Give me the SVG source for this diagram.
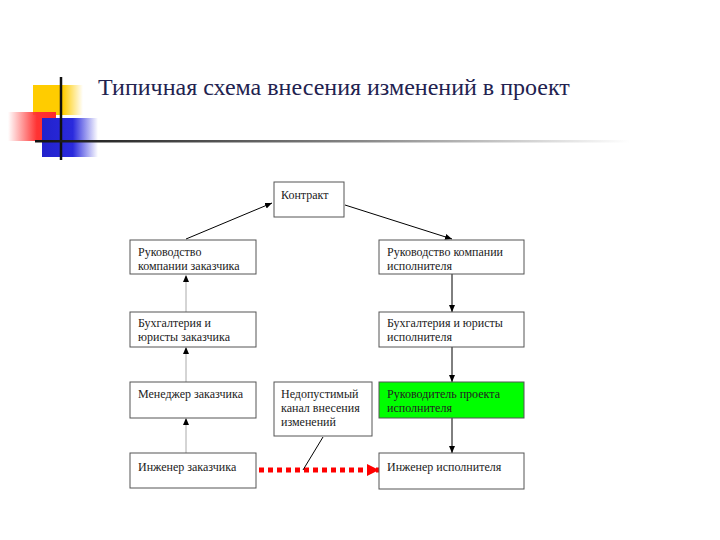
<svg xmlns="http://www.w3.org/2000/svg" width="720" height="540" viewBox="0 0 720 540">
<defs>
<linearGradient id="yel" x1="0" y1="0" x2="1" y2="0"><stop offset="0" stop-color="#ffcc00"/><stop offset="0.6" stop-color="#ffcc00"/><stop offset="1" stop-color="#ffcc00" stop-opacity="0"/></linearGradient>
<linearGradient id="red" x1="0" y1="0" x2="1" y2="0"><stop offset="0" stop-color="#ff3333" stop-opacity="0"/><stop offset="0.6" stop-color="#ff3333"/><stop offset="1" stop-color="#ff2a2a"/></linearGradient>
<linearGradient id="blu" x1="0" y1="0" x2="1" y2="0"><stop offset="0" stop-color="#2222cc"/><stop offset="0.55" stop-color="#2a2add"/><stop offset="1" stop-color="#2a2add" stop-opacity="0"/></linearGradient>
<linearGradient id="hl" x1="0" y1="0" x2="1" y2="0"><stop offset="0" stop-color="#111"/><stop offset="0.55" stop-color="#888"/><stop offset="1" stop-color="#fff"/></linearGradient>
<marker id="ah" markerWidth="8" markerHeight="8" refX="7" refY="4" orient="auto" markerUnits="userSpaceOnUse"><path d="M0,1 L7,4 L0,7 Z" fill="#000"/></marker>
<marker id="rh" markerWidth="14" markerHeight="14" refX="12" refY="7" orient="auto" markerUnits="userSpaceOnUse"><path d="M0,1 L12,7 L0,13 Z" fill="#ff0000"/></marker>
</defs>
<style>
.box{fill:#fff;stroke:#555;stroke-width:1}
.green{fill:#00ff00;stroke:#555;stroke-width:1}
.t{font-family:"Liberation Serif","DejaVu Serif",serif;font-size:12px;fill:#222}
.title{font-family:"Liberation Serif","DejaVu Serif",serif;font-size:24px;fill:#22224f}
.up{stroke:#aaa;stroke-width:1;fill:none}
.dn{stroke:#000;stroke-width:1;fill:none}
</style>
<rect width="720" height="540" fill="#fff"/>
<g id="decor">
<rect x="33" y="85" width="50" height="30" fill="url(#yel)"/>
<rect x="8" y="112" width="48" height="29" fill="url(#red)"/>
<rect x="42" y="118" width="56" height="39" fill="url(#blu)"/>
<line x1="61" y1="77" x2="61" y2="160" stroke="#111" stroke-width="2.5"/>
<rect x="35" y="140" width="595" height="2.5" fill="url(#hl)"/>
</g>
<text class="title" x="98" y="95">Типичная схема внесения изменений в проект</text>
<g id="connectors">
<line class="dn" x1="186" y1="239" x2="272" y2="203" marker-end="url(#ah)"/>
<line class="dn" x1="345" y1="205" x2="452" y2="239" marker-end="url(#ah)"/>
<line class="up" x1="186" y1="312" x2="186" y2="276"/><path d="M183,282 L186,275 L189,282 Z" fill="#000"/>
<line class="up" x1="186" y1="382" x2="186" y2="348"/><path d="M183,354 L186,347 L189,354 Z" fill="#000"/>
<line class="up" x1="186" y1="453" x2="186" y2="419"/><path d="M183,425 L186,418 L189,425 Z" fill="#000"/>
<line class="dn" x1="452" y1="274" x2="452" y2="312" marker-end="url(#ah)"/>
<line class="dn" x1="452" y1="347" x2="452" y2="382" marker-end="url(#ah)"/>
<line class="dn" x1="452" y1="418" x2="452" y2="453" marker-end="url(#ah)"/>
<line x1="259" y1="470" x2="379" y2="470" stroke="#ff0000" stroke-width="5" stroke-dasharray="5,4" marker-end="url(#rh)"/>
<line x1="323" y1="437" x2="303" y2="470" stroke="#000" stroke-width="1"/>
</g>
<g id="n-contract"><rect class="box" x="274" y="182" width="70" height="35"/><text class="t" x="281" y="199">Контракт</text></g>
<g id="n-rz"><rect class="box" x="130" y="240" width="126" height="34"/><text class="t" x="138" y="256">Руководство</text><text class="t" x="138" y="270">компании заказчика</text></g>
<g id="n-ri"><rect class="box" x="379" y="240" width="145" height="34"/><text class="t" x="387" y="256">Руководство компании</text><text class="t" x="387" y="270">исполнителя</text></g>
<g id="n-bz"><rect class="box" x="130" y="312" width="126" height="35"/><text class="t" x="138" y="327">Бухгалтерия и</text><text class="t" x="138" y="341">юристы заказчика</text></g>
<g id="n-bi"><rect class="box" x="379" y="312" width="145" height="35"/><text class="t" x="387" y="327">Бухгалтерия и юристы</text><text class="t" x="387" y="341">исполнителя</text></g>
<g id="n-mz"><rect class="box" x="130" y="382" width="126" height="36"/><text class="t" x="138" y="398">Менеджер заказчика</text></g>
<g id="n-bad"><rect class="box" x="274" y="382" width="98" height="54"/><text class="t" x="281" y="398">Недопустимый</text><text class="t" x="281" y="412">канал внесения</text><text class="t" x="281" y="426">изменений</text></g>
<g id="n-rp"><rect class="green" x="379" y="382" width="145" height="36"/><text class="t" x="387" y="398">Руководитель проекта</text><text class="t" x="387" y="412">исполнителя</text></g>
<g id="n-iz"><rect class="box" x="130" y="453" width="126" height="35"/><text class="t" x="138" y="471">Инженер заказчика</text></g>
<g id="n-ii"><rect class="box" x="379" y="453" width="145" height="36"/><text class="t" x="387" y="471">Инженер исполнителя</text></g>
</svg>
